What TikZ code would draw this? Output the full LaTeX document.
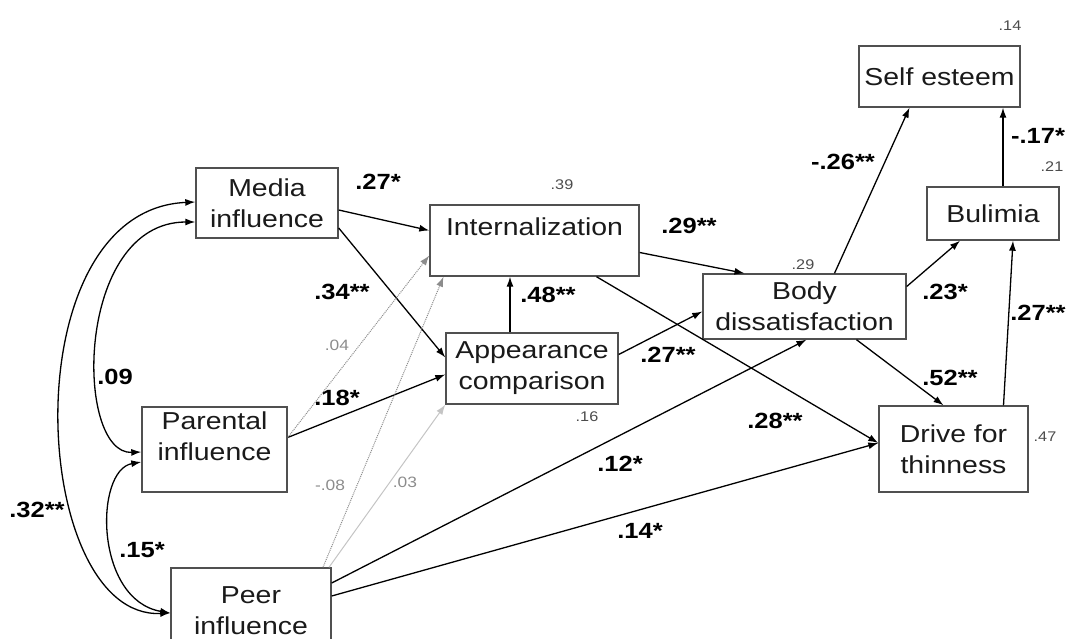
\documentclass[tikz,border=0pt]{standalone}
\usepackage{fontspec}
\setmainfont[FakeStretch=1.16]{Liberation Sans}
\usetikzlibrary{calc,arrows.meta}

\definecolor{boxgray}{HTML}{505050}
\definecolor{txtgray}{HTML}{1A1A1A}
\definecolor{nsgray}{HTML}{8C8C8C}
\definecolor{lightgray}{HTML}{C4C4C4}

\begin{document}
\begin{tikzpicture}[x=1pt,y=-1pt,
    var/.style={draw=boxgray,line width=1.4pt,align=center,inner sep=0pt,text=txtgray,font=\fontsize{24.5}{31}\selectfont},
    eff/.style={line width=1.3pt,-{Latex[length=10pt,width=7pt]}},
    cov/.style={line width=1.3pt,{Latex[length=10pt,width=7pt]}-{Latex[length=10pt,width=7pt]}},
    ns/.style={line width=1pt,densely dotted,draw=nsgray,-{Latex[length=10pt,width=7pt]}},
    nslight/.style={line width=1pt,draw=lightgray,-{Latex[length=10pt,width=7pt]}},
    coef/.style={font=\bfseries\fontsize{22}{24}\selectfont},
    rsq/.style={font=\fontsize{14}{16}\selectfont,text=black!70},
    nslab/.style={font=\fontsize{15}{17}\selectfont,text=black!45}]
\useasboundingbox (0,0) rectangle (1068,639);
\clip (0,0) rectangle (1068,639);

% variables
\node[var,minimum width=142pt,minimum height=70pt] (media) at (267,203) {Media\\influence};
\node[var,minimum width=145pt,minimum height=85pt] (parent) at (214.5,449.5) {Parental\\influence\\[-4pt]\mbox{}};
\node[var,minimum width=160pt,minimum height=86pt] (peer) at (251,611) {Peer\\influence};
\node[var,minimum width=209pt,minimum height=71pt,text height=18pt,text depth=27pt] (inter) at (534.5,240.5) {Internalization};
\node[var,minimum width=172pt,minimum height=71pt] (appear) at (532,368.5) {Appearance\\comparison};
\node[var,minimum width=203pt,minimum height=65pt] (body) at (804.5,306.5) {Body\\dissatisfaction};
\node[var,minimum width=149pt,minimum height=86pt] (drive) at (953.5,449) {Drive for\\thinness};
\node[var,minimum width=161pt,minimum height=61pt] (self) at (939.5,76.5) {Self esteem};
\node[var,minimum width=132pt,minimum height=53pt] (bulimia) at (993,213.5) {Bulimia};

% correlations between the influences
\draw[cov] ($(media.west)+(0,-1)$) .. controls +(-186,8) and +(-141,7) .. ($(peer.west)+(0,2)$);
\draw[cov] ($(media.west)+(0,19)$) .. controls +(-121,0) and +(-67,3) .. ($(parent.west)+(0,2.5)$);
\draw[cov] ($(parent.west)+(0,12.5)$) .. controls +(-47,8) and +(-76,-13) .. ($(peer.west)+(0,2)$);

% paths
\draw[eff] ($(media.east)+(0,7)$) -- ($(inter.west)+(0,-10)$);
\draw[eff] ($(media.east)+(0,25)$) -- ($(appear.west)+(0,-11)$);
\draw[eff] ($(parent.east)+(0,-12)$) -- ($(appear.west)+(0,6)$);
\draw[ns] ($(parent.east)+(0,-12)$) -- ($(inter.west)+(0,15)$);
\draw[ns] ($(peer.north)+(72,0)$) -- ($(inter.south)+(-91,0)$);
\draw[nslight] ($(peer.north)+(78,0)$) -- (appear.south west);
\draw[eff] ($(appear.north)+(-22,0)$) -- ($(inter.south)+(-24.5,0)$);
\draw[eff] ($(inter.east)+(0,12)$) -- ($(body.north)+(-60,0)$);
\draw[eff] ($(appear.east)+(0,-14)$) -- ($(body.west)+(0,5)$);
\draw[eff] ($(inter.south)+(62,0)$) -- ($(drive.west)+(0,-6)$);
\draw[eff] ($(peer.east)+(0,-28)$) -- ($(body.south)+(2,0)$);
\draw[eff] ($(peer.east)+(0,-15)$) -- ($(drive.west)+(0,-6)$);
\draw[eff] ($(body.south)+(52,0)$) -- ($(drive.north)+(-10,0)$);
\draw[eff] ($(body.north)+(30,0)$) -- ($(self.south)+(-30,0)$);
\draw[eff] ($(body.east)+(0,-20)$) -- ($(bulimia.south)+(-33,0)$);
\draw[eff] ($(drive.north)+(50,0)$) -- ($(bulimia.south)+(20,0)$);
\draw[eff] ($(bulimia.north)+(10,0)$) -- ($(self.south)+(63.5,0)$);

% coefficients
\node[coef] (cMI) at (378,182) {.27*};
\node[coef] (cMA) at (342,292) {.34**};
\node[coef] (cMP) at (115,377) {.09};
\node[coef] (cPA) at (337,398) {.18*};
\node[coef] (cMR) at (37,510) {.32**};
\node[coef] (cPR) at (142,550) {.15*};
\node[coef] (cAI) at (548,295) {.48**};
\node[coef] (cIB) at (689,226) {.29**};
\node[coef] (cAB) at (668,355) {.27**};
\node[coef] (cRB) at (620,464) {.12*};
\node[coef] (cRD) at (640,531) {.14*};
\node[coef] (cID) at (775,421) {.28**};
\node[coef] (cBS) at (843,162) {-.26**};
\node[coef] (cLS) at (1038,136) {-.17*};
\node[coef] (cBL) at (945,292) {.23*};
\node[coef] (cDL) at (1038,313) {.27**};
\node[coef] (cBD) at (950,378) {.52**};
\node[nslab] (cPI) at (337,345) {.04};
\node[nslab] (cRI) at (330,485) {-.08};
\node[nslab] (cRA) at (405,482) {.03};

% explained variance
\node[rsq] (rI) at (562,185) {.39};
\node[rsq] (rA) at (587,417) {.16};
\node[rsq] (rB) at (803,265) {.29};
\node[rsq] (rS) at (1010,26) {.14};
\node[rsq] (rL) at (1052,167) {.21};
\node[rsq] (rD) at (1045,437) {.47};
\end{tikzpicture}
\end{document}
